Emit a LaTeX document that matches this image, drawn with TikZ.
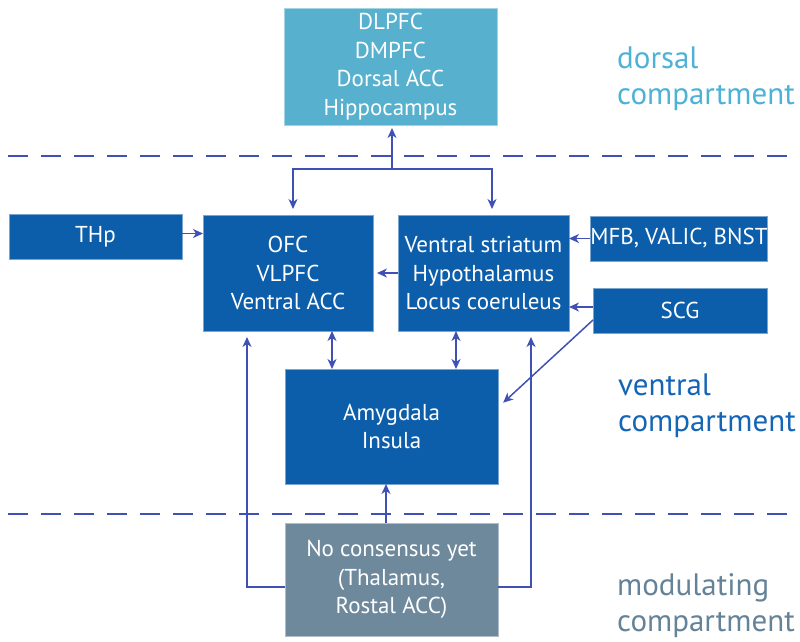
\documentclass[tikz,border=0pt]{standalone}
\usepackage{fontspec}
\setmainfont{PT Sans}
\usetikzlibrary{arrows.meta,calc}
\definecolor{boxblue}{RGB}{12,94,171}
\definecolor{dorsbox}{RGB}{86,176,206}
\definecolor{modbox}{RGB}{110,136,156}
\definecolor{arrcol}{RGB}{63,81,181}
\definecolor{dorstxt}{RGB}{77,178,214}
\definecolor{ventxt}{RGB}{21,101,181}
\definecolor{modtxt}{RGB}{100,130,152}
\begin{document}
\begin{tikzpicture}[x=1pt,y=-1pt,
  region/.style={fill=boxblue, draw=boxblue!55!white, line width=0.5pt, text=white,
    inner sep=0pt, outer sep=0pt, align=center, font=\fontsize{23}{28.5}\selectfont},
  dorsregion/.style={region, fill=dorsbox, draw=dorsbox!55!white},
  modregion/.style={region, fill=modbox, draw=modbox!55!white},
  tip/.style={},
  arr/.style={draw=arrcol, line width=1.5pt, -{Stealth[length=10pt,width=9pt,inset=3pt]}},
  darr/.style={draw=arrcol, line width=1.5pt, {Stealth[length=10pt,width=9pt,inset=3pt]}-{Stealth[length=10pt,width=9pt,inset=3pt]}},
  sep/.style={draw=arrcol, line width=1.5pt, dash pattern=on 20pt off 13pt},
  comptext/.style={anchor=north west, align=left, inner sep=0pt, font=\fontsize{31}{36}\selectfont}]
\useasboundingbox (0,0) rectangle (800,641);

% separators
\draw[sep] (8,156) -- (800,156);
\draw[sep] (8,514) -- (800,514);

% boxes
\node[dorsregion, minimum width=213pt, minimum height=117pt] (dors) at (390.5,66.5) {DLPFC\\DMPFC\\Dorsal ACC\\Hippocampus};
\node[region, minimum width=173pt, minimum height=45pt] (thp) at (95.5,236.5) {THp};
\node[region, minimum width=170pt, minimum height=116pt] (ofc) at (288,273) {OFC\\VLPFC\\Ventral ACC};
\node[region, minimum width=171pt, minimum height=116pt] (vs) at (483.5,273) {Ventral striatum\\Hypothalamus\\Locus coeruleus};
\node[region, minimum width=174pt, minimum height=45pt] (mfb) at (679,238.5) {MFB, VALIC, BNST};
\node[region, minimum width=174pt, minimum height=45pt] (scg) at (680,310.5) {SCG};
\node[region, minimum width=213pt, minimum height=115pt] (amy) at (391.5,426.5) {Amygdala\\Insula};
\node[modregion, minimum width=213pt, minimum height=113pt] (nc) at (391.5,579.5) {No consensus yet\\(Thalamus,\\Rostal ACC)};

% compartment labels
\node[comptext, text=dorstxt] (ldors) at (617,47) {dorsal\\compartment};
\node[comptext, text=ventxt] (lvent) at (618,374) {ventral\\compartment};
\node[comptext, text=modtxt] (lmod) at (617,573) {modulating\\compartment};

% connectors
\coordinate (fork) at (392,169);
\draw[arr, shorten >=3pt] (fork) -- (fork |- dors.south);
\draw[arr, shorten >=6pt] (fork) -| ([xshift=5pt]ofc.north);
\draw[arr, shorten >=6pt] (fork) -| ([xshift=8.5pt]vs.north);

\draw[arr] ([yshift=3pt]thp.east) -- ([yshift=3pt]thp.east -| ofc.west);
\draw[arr, shorten >=4pt] (vs.west) -- (ofc.east);
\draw[arr] (mfb.west) -- (mfb.west -| vs.east);
\draw[arr] ([yshift=3.5pt]scg.west) -- ([yshift=3.5pt]scg.west -| vs.east);
\draw[arr, shorten >=7pt] ([yshift=-9.5pt]scg.west) -- ([yshift=19pt]amy.east);

\draw[darr] ([xshift=44pt]ofc.south) -- ([xshift=44pt]ofc.south |- amy.north);
\draw[darr] ([xshift=-27.5pt]vs.south) -- ([xshift=-27.5pt]vs.south |- amy.north);
\draw[arr] ([xshift=-5.5pt]nc.north) -- ([xshift=-5.5pt]nc.north |- amy.south);

\draw[arr, shorten >=6pt] ([yshift=-7.5pt]nc.west) -| ([xshift=-41pt]ofc.south);
\draw[arr, shorten >=6pt] ([yshift=-7.5pt]nc.east) -| ([xshift=47.5pt]vs.south);
\end{tikzpicture}
\end{document}
